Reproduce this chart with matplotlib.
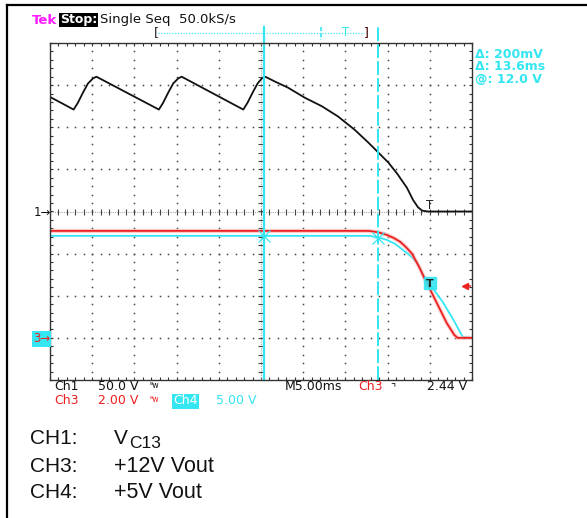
"""Tek scope capture: V_C13, +12V / +5V outputs at turn-off, redrawn with matplotlib."""
import numpy as np
import matplotlib
matplotlib.use("Agg")
import matplotlib.pyplot as plt
from matplotlib.lines import Line2D

W, H = 587, 518          # figure size in px (dpi 100)

# time axis: 5 ms/div, 10 div -> 0..50 ms ; vertical: 8 div, center = 0
ch1_t = [0.0, 2.8, 3.3, 3.9, 4.5, 5.1, 5.5,
         12.9, 13.4, 14.0, 14.6, 15.2, 15.6,
         22.9, 23.4, 24.0, 24.6, 25.1, 25.5,
         26.7, 28.2, 30.2, 32.2, 34.1, 36.1, 37.7, 39.1, 40.1, 41.2, 42.3, 43.0,
         43.6, 44.1, 44.8, 50.0]
ch1_v = [136, 121, 129, 141, 152, 158, 160,
         121, 129, 141, 152, 158, 160,
         121, 129, 141, 152, 158, 160,
         154, 147, 135, 125, 113, 97, 82, 68, 58, 44, 28, 14,
         5, 1, 0, 0]

ch3_t = [0.0, 37.7, 38.5, 39.1, 39.9, 40.7, 41.5, 42.2, 42.9, 43.8, 44.4, 45.0, 46.0,
         47.0, 47.9, 48.3, 50.0]
ch3_v = [5.08, 5.08, 5.04, 4.99, 4.89, 4.75, 4.56, 4.30, 3.99, 3.32, 2.80, 2.33, 1.52,
         0.71, 0.14, 0.0, 0.0]

ch4_t = [0.0, 37.9, 39.1, 39.9, 40.9, 41.8, 42.7, 43.5, 44.2, 45.0, 46.6, 47.8, 48.9, 50.0]
ch4_v = [12.11, 12.11, 11.87, 11.63, 11.15, 10.45, 9.75, 8.90, 7.48, 6.41, 4.15, 2.14,
         0.12, 0.0]

CH1_SCALE, CH1_POS = 50.0, 0.0     # V/div, ground position (div)
CH3_SCALE, CH3_POS = 2.0, -3.0
CH4_SCALE, CH4_POS = 5.0, -3.0

cursor_t = [25.3, 38.9]            # Δ 13.6 ms
trig_t, trig_level = 45.0, 2.44    # ch3 falling edge

CYAN = "#33e6f2"
RED = "#ee2020"
MONO = "DejaVu Sans"


def fx(x):
    return x / W


def fy(y):
    return 1 - y / H


def fline(fig, xs, ys, **kw):
    fig.add_artist(Line2D([fx(x) for x in xs], [fy(y) for y in ys],
                          transform=fig.transFigure, **kw))


def ftext(fig, x, y, s, **kw):
    kw.setdefault("family", MONO)
    kw.setdefault("va", "center")
    fig.text(fx(x), fy(y), s, **kw)


plt.rcParams["lines.scale_dashes"] = False
fig = plt.figure(figsize=(W / 100, H / 100), dpi=100)
ax = fig.add_axes([fx(50), fy(380), 422 / W, 337 / H])
ax.set_xlim(0, 50)
ax.set_ylim(-4, 4)

# graticule
ax.set_xticks(np.arange(0, 50.01, 1.0))
ax.set_yticks(np.arange(-4, 4.01, 0.2))
ax.tick_params(direction="in", length=2.2, width=0.8, top=True, right=True,
               labelbottom=False, labelleft=False, color="#333")
for s in ax.spines.values():
    s.set_color("#333")
    s.set_linewidth(1.0)

ys_minor = np.arange(-4, 4.01, 0.2)
xs_minor = np.arange(0, 50.01, 1.0)
for gx in range(5, 50, 5):
    if gx == 25:
        continue
    ax.plot(np.full_like(ys_minor, gx), ys_minor, ls="none", marker="s", ms=1.1,
            mew=0, color="#444")
for gy in range(-3, 4):
    if gy == 0:
        continue
    ax.plot(xs_minor, np.full_like(xs_minor, gy), ls="none", marker="s", ms=1.1,
            mew=0, color="#444")
ax.axvline(25, color="#aaa", lw=0.8, dashes=(0.8, 0.8))
ax.axhline(0, color="#aaa", lw=0.8, dashes=(0.8, 0.8))
ax.plot(np.full_like(ys_minor, 25), ys_minor, ls="none", marker="_", ms=4, mew=0.8,
        color="#444")
ax.plot(xs_minor, np.zeros_like(xs_minor), ls="none", marker="|", ms=4, mew=0.8,
        color="#444")

# traces
y1 = np.array(ch1_v) / CH1_SCALE + CH1_POS
y3 = np.array(ch3_v) / CH3_SCALE + CH3_POS
y4 = np.array(ch4_v) / CH4_SCALE + CH4_POS
ax.plot(ch1_t, y1, color="#111", lw=1.3)
ax.plot(ch4_t, y4, color=CYAN, lw=1.3)
ax.plot(ch3_t, y3, color="#f6b0b0", lw=3.0, alpha=0.6)
ax.plot(ch3_t, y3, color=RED, lw=1.3)

# cursors
top_div = (212 - 27) / 42.125
ax.plot([cursor_t[0]] * 2, [-4, top_div], color=CYAN, lw=1.6, clip_on=False)
ax.plot([cursor_t[1]] * 2, [-4, top_div], color=CYAN, lw=1.4, dashes=(10, 2.2),
        clip_on=False)
cy = np.interp(cursor_t, ch4_t, ch4_v) / CH4_SCALE + CH4_POS
ax.plot(cursor_t, cy, ls="none", marker="x", ms=8, mew=0.9, color=CYAN)
ax.plot(cursor_t, cy, ls="none", marker="+", ms=6, mew=0.6, color=CYAN, alpha=0.6)

# trigger markers
tl = trig_level / CH3_SCALE + CH3_POS
ax.plot([trig_t], [tl + 0.08], ls="none", marker="s", ms=8.5, color=CYAN, alpha=0.9)
ax.text(trig_t, tl + 0.05, "T", color="#222", fontsize=8, ha="center", va="center",
        family=MONO, fontweight="bold")
ax.text(trig_t, 0.0, "T", color="#222", fontsize=8.5, ha="center", va="bottom",
        family=MONO)
ax.plot([49.2], [tl], ls="none", marker="<", ms=5, color=RED, clip_on=False)
ax.plot([49.2, 49.8], [tl, tl], color=RED, lw=1.2, clip_on=False)

# channel ground markers
ftext(fig, 34, 212, "1→", fontsize=8.5, color="#111")
ftext(fig, 33, 339, "3→", fontsize=8.5, color=RED,
      bbox=dict(boxstyle="square,pad=0.1", fc=CYAN, ec="none"))

# header
ftext(fig, 32, 20, "Tek", fontsize=9.5, color="#ff1aff", fontweight="bold")
ftext(fig, 60, 20, "Stop:", fontsize=9, color="white", fontweight="bold",
      bbox=dict(boxstyle="square,pad=0.05", fc="black", ec="none"))
ftext(fig, 100, 20, "Single Seq  50.0kS/s", fontsize=9.5, color="#111")

# record bar
ftext(fig, 154, 33, "[", fontsize=9, color="#222")
ftext(fig, 364, 33, "]", fontsize=9, color="#400")
fline(fig, [158, 364], [33, 33], color=CYAN, lw=0.9, dashes=(0.8, 1.2))
fline(fig, [321, 321], [27, 40], color=CYAN, lw=1.2, dashes=(3, 1.5))
ftext(fig, 346, 33, "T", fontsize=8.5, color=CYAN, ha="center")

# cursor readout
for i, s in enumerate(["Δ: 200mV", "Δ: 13.6ms", "@: 12.0 V"]):
    ftext(fig, 475, 54 + 12.7 * i, s, fontsize=9, color=CYAN, fontweight="bold")

# bottom readout
ftext(fig, 54, 387, "Ch1", fontsize=9, color="#111")
ftext(fig, 98, 387, "50.0 V", fontsize=9, color="#111")
ftext(fig, 150, 386, "ᴮw", fontsize=5.5, color="#111")
ftext(fig, 285, 387, "M5.00ms", fontsize=9, color="#111")
ftext(fig, 358, 387, "Ch3", fontsize=9, color=RED)
ftext(fig, 390, 387, "⌝", fontsize=8, color="#111")
ftext(fig, 427, 387, "2.44 V", fontsize=9, color="#111")
ftext(fig, 54, 401, "Ch3", fontsize=9, color=RED)
ftext(fig, 98, 401, "2.00 V", fontsize=9, color=RED)
ftext(fig, 150, 400, "ᴮw", fontsize=5.5, color=RED)
ftext(fig, 173, 401, "Ch4", fontsize=9, color="white",
      bbox=dict(boxstyle="square,pad=0.08", fc=CYAN, ec="none"))
ftext(fig, 216, 401, "5.00 V", fontsize=9, color=CYAN)

# legend text
SANS = "Liberation Sans"
ftext(fig, 30, 438, "CH1:", fontsize=15, family=SANS, color="#111")
ftext(fig, 114, 438, "V", fontsize=15, family=SANS, color="#111")
ftext(fig, 129, 444, "C13", fontsize=12.5, family=SANS, color="#111")
ftext(fig, 30, 466, "CH3:", fontsize=15, family=SANS, color="#111")
ftext(fig, 114, 466, "+12V Vout", fontsize=15.5, family=SANS, color="#111")
ftext(fig, 30, 493, "CH4:", fontsize=15, family=SANS, color="#111")
ftext(fig, 114, 493, "+5V Vout", fontsize=15.5, family=SANS, color="#111")

# outer frame (top and left edge only)
fline(fig, [7, W], [5, 5], color="black", lw=1.6)
fline(fig, [7, 7], [5, H], color="black", lw=1.6)

fig.savefig("out.png", dpi=100)
